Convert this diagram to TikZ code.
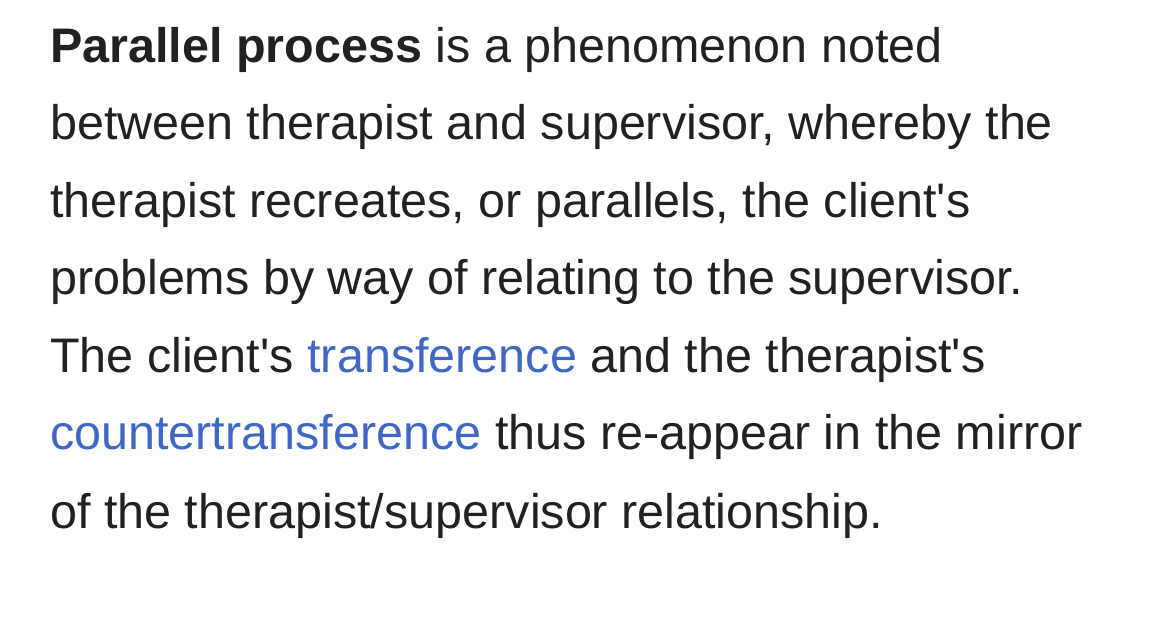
\documentclass[tikz,border=0pt]{standalone}
\usepackage{fontspec}
\setmainfont{Liberation Sans}
\definecolor{txt}{HTML}{202122}
\definecolor{lnk}{HTML}{3F67C6}
\newcommand{\aq}{\textquotesingle}
\begin{document}
\begin{tikzpicture}[x=1pt,y=1pt,
  ln/.style={anchor=base west,inner sep=0pt,text=txt,font=\fontsize{48.5}{48}\selectfont}]
\fill[white] (0,0) rectangle (1170,627);
\useasboundingbox (0,0) rectangle (1170,627);
\node[ln] (l1) at (50,564) {\textbf{Parallel process} is a phenomenon noted};
\node[ln] (l2) at (50,487) {between therapist and supervisor, whereby the};
\node[ln] (l3) at (50,409) {therapist recreates, or parallels, the client\aq s};
\node[ln] (l4) at (50,332) {problems by way of relating to the supervisor.};
\node[ln] (l5) at (50,254) {The client\aq s \textcolor{lnk}{transference} and the therapist\aq s};
\node[ln] (l6) at (50,177) {\textcolor{lnk}{countertransference} thus re-appear in the mirror};
\node[ln] (l7) at (50,99) {of the therapist/supervisor relationship.};
\end{tikzpicture}
\end{document}
